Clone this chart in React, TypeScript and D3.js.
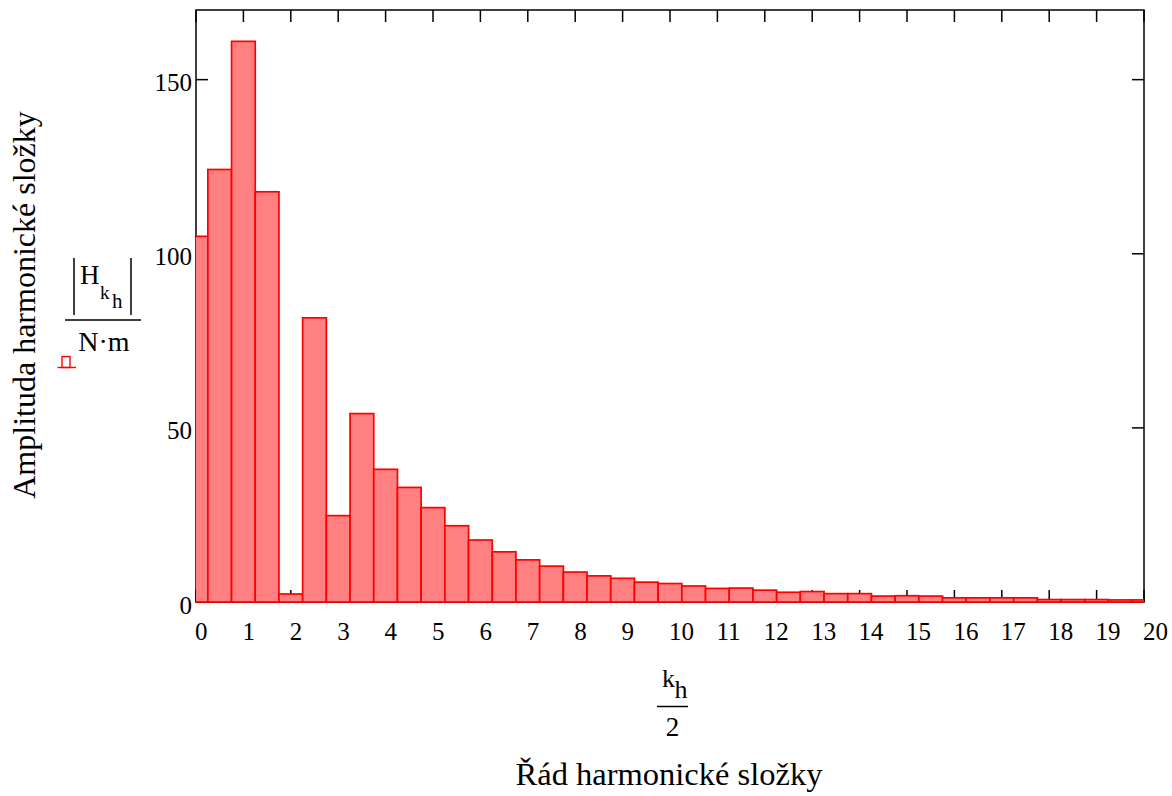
import * as d3 from 'd3';

// k_h index (plotted at k_h / 2) and amplitude |H| / (N·m)
const kh = [0, 1, 2, 3, 4, 5, 6, 7, 8, 9, 10, 11, 12, 13, 14, 15, 16, 17, 18, 19, 20,
  21, 22, 23, 24, 25, 26, 27, 28, 29, 30, 31, 32, 33, 34, 35, 36, 37, 38, 39, 40];
const amplitude = [105, 124.2, 161, 117.8, 2.3, 81.6, 24.8, 54.1, 38.1, 32.9, 27.1,
  21.9, 17.8, 14.4, 12.1, 10.3, 8.6, 7.5, 6.8, 5.7, 5.3,
  4.6, 3.9, 4.0, 3.4, 2.8, 3.0, 2.4, 2.4, 1.7, 1.8,
  1.7, 1.2, 1.2, 1.2, 1.2, 0.7, 0.7, 0.7, 0.6, 0.6];
const xTicks = [0, 1, 2, 3, 4, 5, 6, 7, 8, 9, 10, 11, 12, 13, 14, 15, 16, 17, 18, 19, 20];
const yTicks = [0, 50, 100, 150];

const W = 1172;
const H = 796;
const plot = { left: 196, right: 1144, top: 10, bottom: 602 };
const font = '"Liberation Serif", "Times New Roman", serif';

export default function App() {
  const x = d3.scaleLinear().domain([0, 20]).range([plot.left, plot.right]);
  const y = d3.scaleLinear().domain([0, 170]).range([plot.bottom, plot.top]);
  const half = 0.25;
  const tick = 12;

  return (
    <svg width={W} height={H} style={{ position: 'absolute', left: 0, top: 0 }} fontFamily={font}>
      <defs>
        <clipPath id="plotClip">
          <rect x={plot.left} y={plot.top} width={plot.right - plot.left} height={plot.bottom - plot.top + 3} />
        </clipPath>
      </defs>
      <rect width={W} height={H} fill="#fff" />

      {/* ticks on all four sides */}
      <g stroke="#000" strokeWidth={1.5}>
        {xTicks.map((t) => (
          <g key={'xt' + t}>
            <line x1={x(t)} x2={x(t)} y1={plot.bottom} y2={plot.bottom - tick} />
            <line x1={x(t)} x2={x(t)} y1={plot.top} y2={plot.top + tick} />
          </g>
        ))}
        {yTicks.map((t) => (
          <g key={'yt' + t}>
            <line x1={plot.left} x2={plot.left + tick} y1={y(t)} y2={y(t)} />
            <line x1={plot.right} x2={plot.right - tick} y1={y(t)} y2={y(t)} />
          </g>
        ))}
        <rect x={plot.left} y={plot.top} width={plot.right - plot.left} height={plot.bottom - plot.top} fill="none" />
      </g>

      {/* bars */}
      <g clipPath="url(#plotClip)">
        {kh.map((k, i) => {
          const c = k / 2;
          return (
            <rect
              key={k}
              x={x(c - half)}
              width={x(c + half) - x(c - half)}
              y={y(amplitude[i])}
              height={y(0) - y(amplitude[i])}
              fill="#ff8080"
              stroke="#ff0000"
              strokeWidth={1.7}
            />
          );
        })}
      </g>

      {/* tick labels */}
      <g fontSize={25} fill="#000">
        {xTicks.map((t) => (
          <text key={'xl' + t} x={x(t) - 1} y={640} textAnchor="start">{t}</text>
        ))}
        {yTicks.map((t) => (
          <text key={'yl' + t} x={192} y={y(t) + 11.5} textAnchor="end">{t}</text>
        ))}
      </g>

      {/* y axis title */}
      <text transform="translate(35,305) rotate(-90)" textAnchor="middle" fontSize={32}>
        Amplituda harmonické složky
      </text>
      <g stroke="#000" strokeWidth={1.5}>
        <line x1={74} x2={74} y1={258} y2={315} />
        <line x1={131} x2={131} y1={258} y2={315} />
        <line x1={65} x2={141} y1={320} y2={320} />
      </g>
      <text x={80} y={283.5} fontSize={27}>H</text>
      <text x={100} y={298.5} fontSize={19}>k</text>
      <text x={112} y={307.5} fontSize={21}>h</text>
      <text x={104} y={350.5} fontSize={28} textAnchor="middle">N·m</text>
      <g stroke="#ff0000" strokeWidth={1.4} fill="#fff">
        <rect x={62} y={356.5} width={8} height={11} />
        <line x1={57.5} x2={76} y1={367.5} y2={367.5} />
      </g>

      {/* x axis title */}
      <text x={662} y={687} fontSize={26}>k</text>
      <text x={674.5} y={698} fontSize={26}>h</text>
      <line x1={657} x2={688} y1={706.5} y2={706.5} stroke="#000" strokeWidth={1.5} />
      <text x={672.5} y={736} fontSize={27} textAnchor="middle">2</text>
      <text x={669} y={785} fontSize={32.5} textAnchor="middle">Řád harmonické složky</text>
    </svg>
  );
}
